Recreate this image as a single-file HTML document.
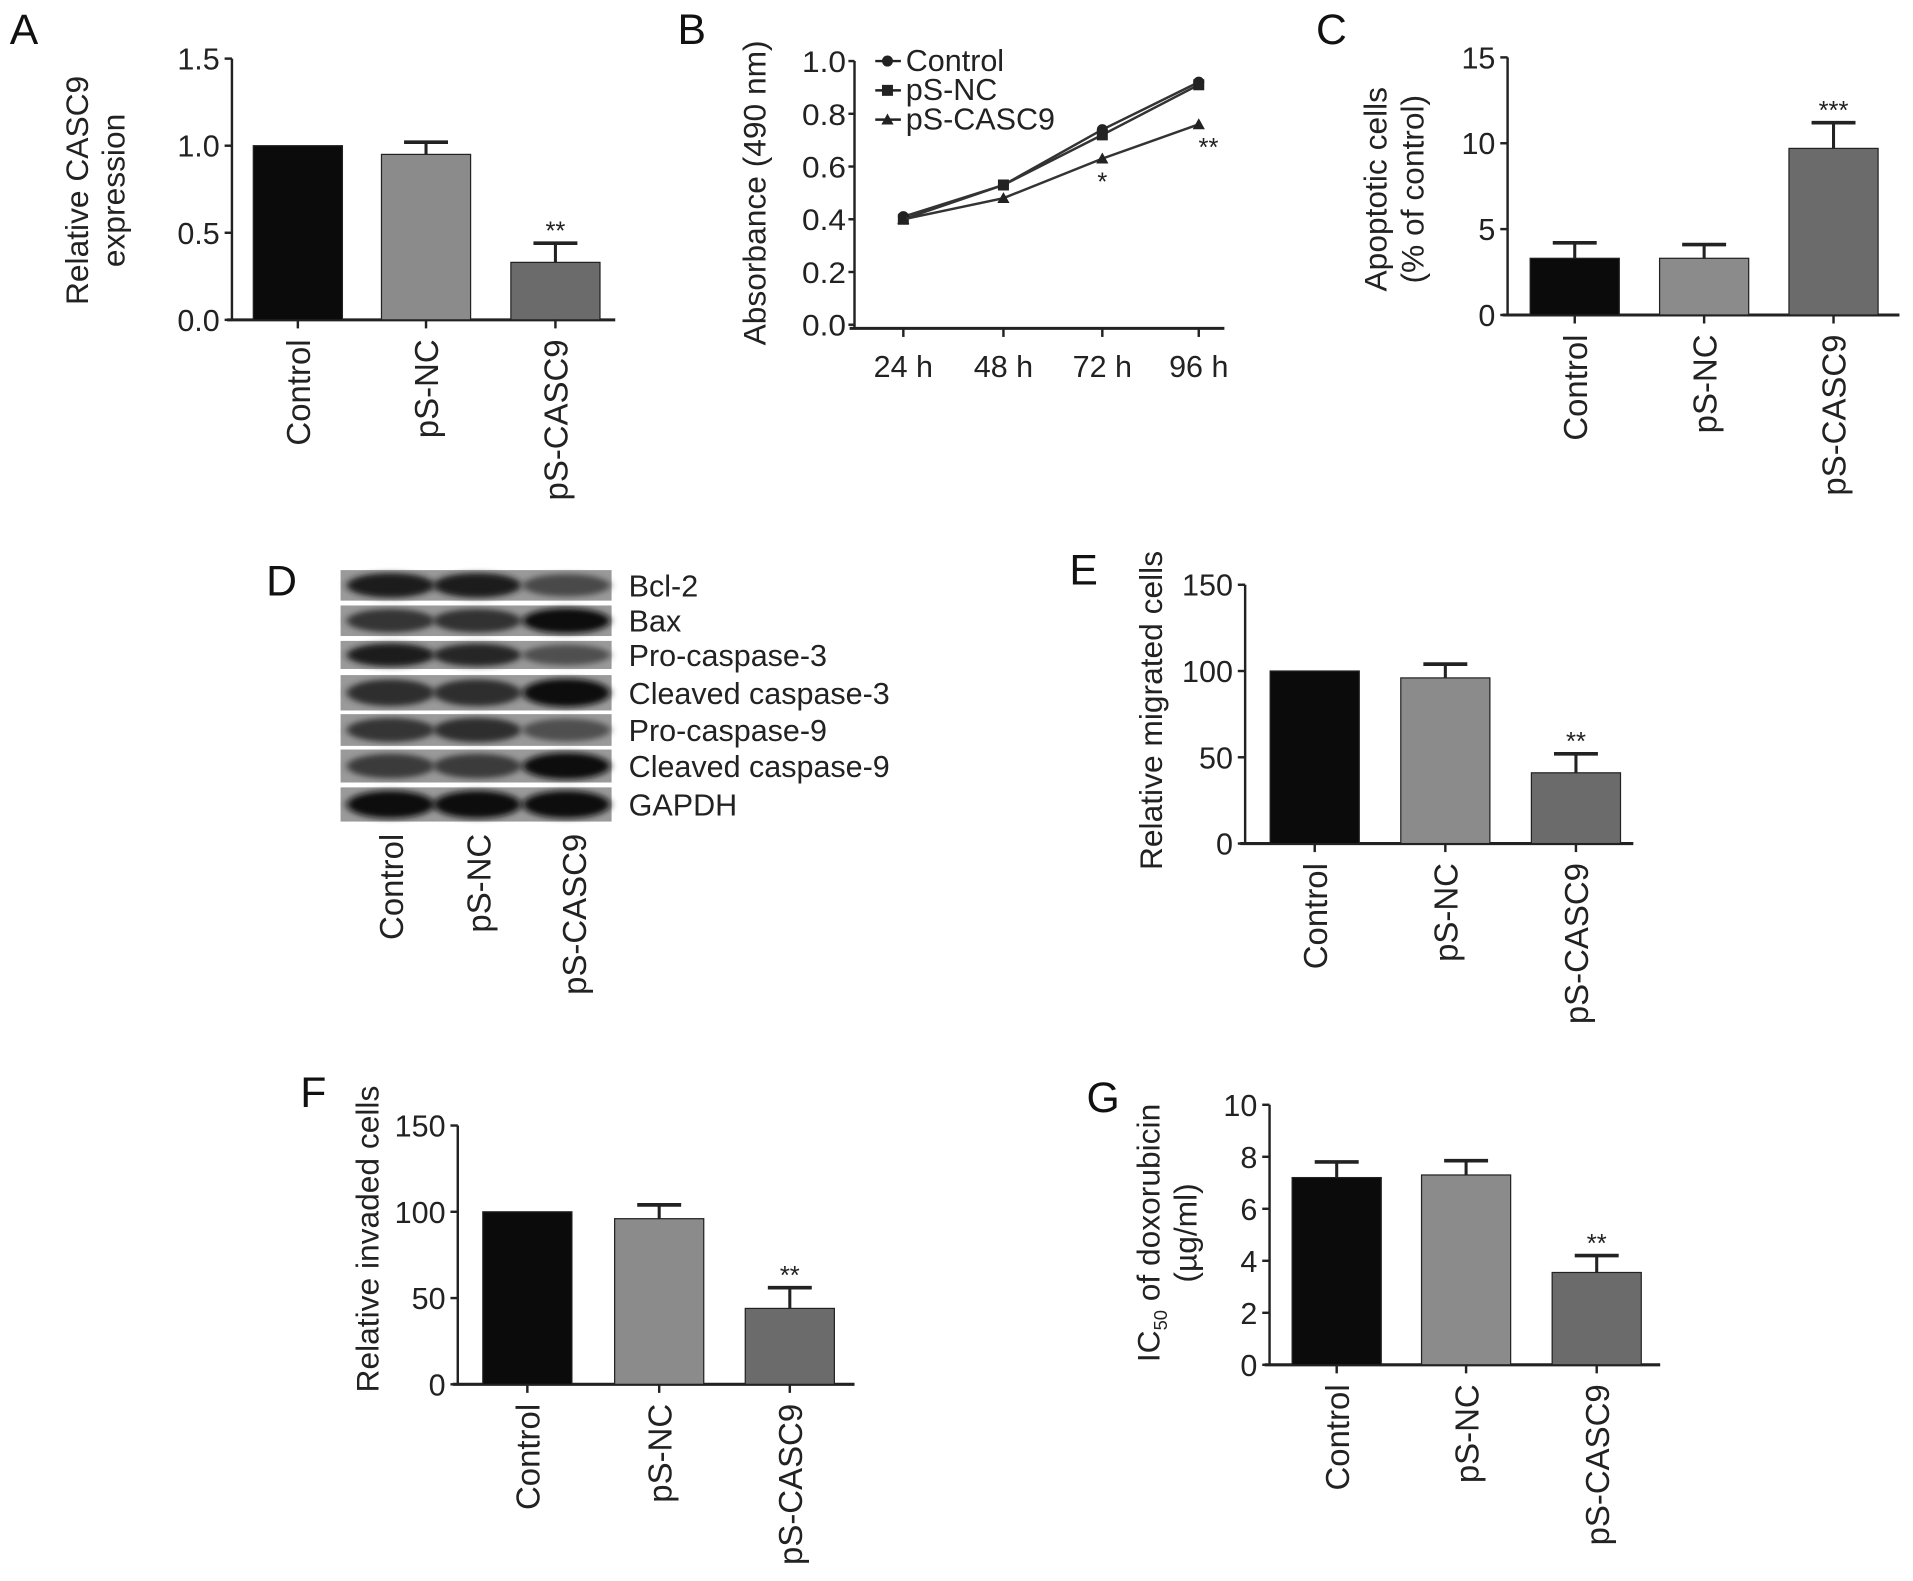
<!DOCTYPE html>
<html><head><meta charset="utf-8"><style>
html,body{margin:0;padding:0;background:#fff;}
svg{display:block;font-family:"Liberation Sans",Arial,sans-serif;}
</style></head><body>
<svg id="fig" width="1913" height="1581" viewBox="0 0 1567.1 1295.1" xmlns="http://www.w3.org/2000/svg">
<g id="root"></g>
</svg>
<script>
// ---- data ----
const groups = ["Control", "pS-NC", "pS-CASC9"];
const barColors = ["#0b0b0b", "#8b8b8b", "#6b6b6b"];
const aValues = [1.0, 0.95, 0.33];
const aErr = [0, 0.07, 0.11];
const aTicks = ["0.0", "0.5", "1.0", "1.5"];
const cValues = [3.3, 3.3, 9.7];
const cErr = [0.9, 0.8, 1.5];
const cTicks = ["0", "5", "10", "15"];
const eValues = [100, 96, 41];
const eErr = [0, 8, 11];
const eTicks = ["0", "50", "100", "150"];
const fValues = [100, 96, 44];
const fErr = [0, 8, 12];
const fTicks = ["0", "50", "100", "150"];
const gValues = [7.2, 7.3, 3.55];
const gErr = [0.6, 0.55, 0.65];
const gTicks = ["0", "2", "4", "6", "8", "10"];
const bTimes = ["24 h", "48 h", "72 h", "96 h"];
const bControl = [0.41, 0.53, 0.74, 0.92];
const bNC = [0.40, 0.53, 0.72, 0.91];
const bCASC9 = [0.40, 0.48, 0.63, 0.76];
const bTicks = ["0.0", "0.2", "0.4", "0.6", "0.8", "1.0"];
const blotLabels = ["Bcl-2", "Bax", "Pro-caspase-3", "Cleaved caspase-3", "Pro-caspase-9", "Cleaved caspase-9", "GAPDH"];
const blotIntensity = [[0.85,0.85,0.55],[0.7,0.72,0.95],[0.85,0.8,0.5],[0.75,0.75,0.97],[0.7,0.75,0.5],[0.65,0.65,0.95],[0.97,0.97,0.97]];

const NS = "http://www.w3.org/2000/svg";
const root = document.getElementById("root");
function mk(tag, attrs, parent, text) {
  const e = document.createElementNS(NS, tag);
  for (const k in attrs) e.setAttribute(k, attrs[k]);
  if (text !== undefined) e.textContent = text;
  (parent || root).appendChild(e);
  return e;
}
function panelLabel(ch, x, y) {
  const t = mk("text", {x: x, y: y, "font-size": 35, fill: "#111"}, root, ch);
  
  
}

function barChart(cfg) {
  const g = mk("g", {});
  
  
  const ymax = cfg.ymax;
  const y = v => cfg.y0 - (v / ymax) * (cfg.y0 - cfg.yTop);
  const n = cfg.ticks.length;
  const ax = mk("line", {x1: cfg.ax, y1: cfg.yTop, x2: cfg.ax, y2: cfg.y0, stroke: "#222", "stroke-width": 2}, g);
  
  
  cfg.ticks.forEach((lab, i) => {
    const v = ymax * i / (n - 1);
    const yy = y(v);
    mk("line", {x1: cfg.ax - 6, y1: yy, x2: cfg.ax, y2: yy, stroke: "#222", "stroke-width": 2}, g);
    const t = mk("text", {x: cfg.ax - 10, y: yy + 9, "font-size": 25, "text-anchor": "end", fill: "#222"}, g, lab);
    
    
  });
  const xa = mk("line", {x1: cfg.ax - 4, y1: cfg.y0, x2: cfg.xEnd, y2: cfg.y0, stroke: "#222", "stroke-width": 2.5}, g);
  
  
  cfg.values.forEach((v, i) => {
    const cx = cfg.centers[i];
    const r = mk("rect", {x: cx - cfg.bw / 2, y: y(v), width: cfg.bw, height: cfg.y0 - y(v), fill: barColors[i], stroke: "#222", "stroke-width": 1}, g);
    
    
    if (cfg.err[i] > 0) {
      const ye = y(v + cfg.err[i]);
      mk("line", {x1: cx, y1: y(v), x2: cx, y2: ye, stroke: "#222", "stroke-width": 2.5}, g);
      mk("line", {x1: cx - 18, y1: ye, x2: cx + 18, y2: ye, stroke: "#222", "stroke-width": 3}, g);
    }
    if (cfg.stars[i]) {
      const s = mk("text", {x: cx, y: y(v + cfg.err[i]) - 3, "font-size": 21, "text-anchor": "middle", fill: "#222"}, g, cfg.stars[i]);
      
      
    }
    mk("line", {x1: cx, y1: cfg.y0, x2: cx, y2: cfg.y0 + 7, stroke: "#222", "stroke-width": 2}, g);
    const lab = mk("text", {x: 0, y: 0, "font-size": 27, "text-anchor": "end", fill: "#222",
      transform: "translate(" + (cx + 10) + "," + (cfg.y0 + 16) + ") rotate(-90)"}, g, groups[i]);
    
    
  });
  const tt = mk("text", {x: 0, y: 0, "font-size": 26, "text-anchor": "middle", fill: "#222",
    transform: "translate(" + cfg.titleX + "," + cfg.titleY + ") rotate(-90)"}, g);
  
  
  cfg.title.forEach((line, k) => {
    const ts = mk("tspan", {x: 0, dy: k === 0 ? 0 : 30}, tt);
    if (typeof line === "string") ts.textContent = line;
    else line(ts);
  });
}

// A
panelLabel("A", 8, 36);
barChart({name: "panel-a-chart", ax: 190, y0: 262, yTop: 48, ymax: 1.5, xEnd: 504, bw: 73,
  centers: [244, 349, 455], values: aValues, err: aErr, ticks: aTicks, stars: ["", "", "**"],
  title: ["Relative CASC9", "expression"], titleX: 72, titleY: 156});
// C
panelLabel("C", 1078, 36);
barChart({name: "panel-c-chart", ax: 1235, y0: 258, yTop: 47, ymax: 15, xEnd: 1556, bw: 73,
  centers: [1290, 1396, 1502], values: cValues, err: cErr, ticks: cTicks, stars: ["", "", "***"],
  title: ["Apoptotic cells", "(% of control)"], titleX: 1136, titleY: 155});
// E
panelLabel("E", 876, 479);
barChart({name: "panel-e-chart", ax: 1020, y0: 691, yTop: 479, ymax: 150, xEnd: 1338, bw: 73,
  centers: [1077, 1184, 1291], values: eValues, err: eErr, ticks: eTicks, stars: ["", "", "**"],
  title: ["Relative migrated cells"], titleX: 952, titleY: 582});
// F
panelLabel("F", 246, 907);
barChart({name: "panel-f-chart", ax: 375, y0: 1134, yTop: 922, ymax: 150, xEnd: 700, bw: 73,
  centers: [432, 540, 647], values: fValues, err: fErr, ticks: fTicks, stars: ["", "", "**"],
  title: ["Relative invaded cells"], titleX: 310, titleY: 1015});
// G
panelLabel("G", 890, 911);
barChart({name: "panel-g-chart", ax: 1040, y0: 1118, yTop: 905, ymax: 10, xEnd: 1360, bw: 73,
  centers: [1095, 1201, 1308], values: gValues, err: gErr, ticks: gTicks, stars: ["", "", "**"],
  title: [function(ts){ ts.textContent = "IC"; mk("tspan", {"font-size": 15, dy: 6}, ts, "50"); mk("tspan", {dy: -6}, ts, " of doxorubicin"); }, "(µg/ml)"],
  titleX: 950, titleY: 1010});

// B line chart
panelLabel("B", 555, 36);
(function(){
  const g = mk("g", {});
  
  
  const ax = 700, y0 = 266, yTop = 50, ymax = 1.0;
  const xs = [740, 822, 903, 982];
  const y = v => y0 - v / ymax * (y0 - yTop);
  mk("line", {x1: ax, y1: yTop, x2: ax, y2: y0 + 3, stroke: "#222", "stroke-width": 2}, g);
  mk("line", {x1: ax - 4, y1: y0 + 3, x2: 1003, y2: y0 + 3, stroke: "#222", "stroke-width": 2.5}, g);
  bTicks.forEach((lab, i) => {
    const yy = y(ymax * i / (bTicks.length - 1));
    mk("line", {x1: ax - 5, y1: yy, x2: ax, y2: yy, stroke: "#222", "stroke-width": 2}, g);
    const t = mk("text", {x: ax - 7, y: yy + 9, "font-size": 24, "text-anchor": "end", fill: "#222", textLength: 36, lengthAdjust: "spacingAndGlyphs"}, g, lab);
    
    
  });
  bTimes.forEach((lab, i) => {
    mk("line", {x1: xs[i], y1: y0 + 3, x2: xs[i], y2: y0 + 10, stroke: "#222", "stroke-width": 2}, g);
    const t = mk("text", {x: xs[i], y: 309, "font-size": 25, "text-anchor": "middle", fill: "#222"}, g, lab);
    
    
  });
  const series = [[bControl, "circle"], [bNC, "square"], [bCASC9, "triangle"]];
  const names = ["Control", "pS-NC", "pS-CASC9"];
  function marker(type, x, yy, par) {
    if (type === "circle") return mk("circle", {cx: x, cy: yy, r: 4.5, fill: "#222"}, par);
    if (type === "square") return mk("rect", {x: x - 4.5, y: yy - 4.5, width: 9, height: 9, fill: "#222"}, par);
    return mk("polygon", {points: (x) + "," + (yy - 5) + " " + (x - 5) + "," + (yy + 4) + " " + (x + 5) + "," + (yy + 4), fill: "#222"}, par);
  }
  series.forEach((s, k) => {
    const pts = s[0].map((v, i) => xs[i] + "," + y(v)).join(" ");
    const pl = mk("polyline", {points: pts, fill: "none", stroke: "#333", "stroke-width": 2}, g);
    
    
    s[0].forEach((v, i) => {
      const m = marker(s[1], xs[i], y(v), g);
      
      
    });
    const ly = 58 + k * 24;
    const le = mk("g", {}, g);
    
    
    mk("line", {x1: 717, y1: ly - 8, x2: 738, y2: ly - 8, stroke: "#222", "stroke-width": 2}, le);
    marker(s[1], 727, ly - 8, le);
    mk("text", {x: 742, y: ly, "font-size": 25, fill: "#222"}, le, names[k]);
  });
  const s1 = mk("text", {x: xs[2], y: y(bCASC9[2]) + 26, "font-size": 21, "text-anchor": "middle", fill: "#222"}, g, "*");
  
  
  const s2 = mk("text", {x: xs[3] + 8, y: y(bCASC9[3]) + 26, "font-size": 21, "text-anchor": "middle", fill: "#222"}, g, "**");
  
  
  const tt = mk("text", {x: 0, y: 0, "font-size": 26, "text-anchor": "middle", fill: "#222", transform: "translate(627,158) rotate(-90)"}, g, "Absorbance (490 nm)");
  
  
})();

// D western blot
panelLabel("D", 218, 488);
(function(){
  const g = mk("g", {});
  
  
  const defs = mk("defs", {}, g);
  const f = mk("filter", {id: "blur", x: "-20%", y: "-50%", width: "140%", height: "200%"}, defs);
  mk("feGaussianBlur", {stdDeviation: "3 2.5"}, f);
  const rows = [[467, 25], [496, 25], [525, 23], [553, 29], [585, 26], [614, 27], [645, 28]];
  const lanes = [320, 391, 464];
  blotLabels.forEach((lab, r) => {
    const [ry, rh] = rows[r];
    const strip = mk("rect", {x: 279, y: ry, width: 222, height: rh, fill: "#9a9a9a"}, g);
    
    
    lanes.forEach((lx, l) => {
      const v = blotIntensity[r][l];
      const c = Math.round(150 - v * 140);
      mk("ellipse", {cx: lx, cy: ry + rh / 2, rx: 36, ry: rh * 0.3 + v * 3, fill: "rgb(" + c + "," + c + "," + c + ")", filter: "url(#blur)"}, g);
    });
    const t = mk("text", {x: 515, y: ry + rh / 2 + 9, "font-size": 25, fill: "#222"}, g, lab);
    
    
  });
  const colx = [320, 392, 470];
  groups.forEach((lab, i) => {
    const t = mk("text", {x: 0, y: 0, "font-size": 27, "text-anchor": "end", fill: "#222",
      transform: "translate(" + (colx[i] + 10) + ",683) rotate(-90)"}, g, lab);
    
    
  });
})();
</script>
</body></html>
